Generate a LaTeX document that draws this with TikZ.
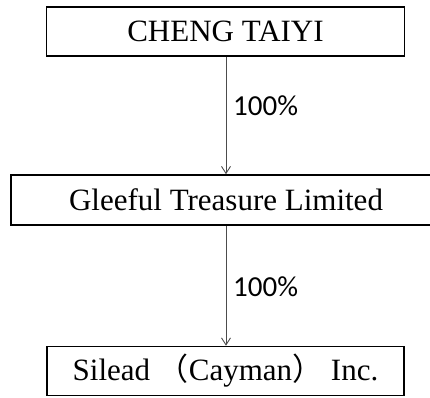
\documentclass[tikz,border=0pt]{standalone}
\usepackage{fontspec}
\setmainfont{Liberation Serif}
\newfontfamily\labfont{Carlito}
\newfontfamily\cjkfont{Noto Sans CJK SC}
\usetikzlibrary{arrows.meta}
\begin{document}
\begin{tikzpicture}[x=1pt,y=-1pt,
  entity/.style={draw=black, line width=1.6pt, fill=white, inner sep=0pt, font=\fontsize{31}{36}\selectfont},
  link/.style={draw=black!70, line width=0.9pt, -{Straight Barb[length=7pt,width=9pt,line width=0.9pt]}},
  pct/.style={font=\labfont\fontsize{29}{32}\selectfont, anchor=west, inner sep=0pt}]
\useasboundingbox (0,0) rectangle (430,397);
\node[entity, minimum width=358pt, minimum height=49pt] (a) at (225.5,31.5) {CHENG TAIYI};
\node[entity, minimum width=430pt, minimum height=50pt] (b) at (226,200) {Gleeful Treasure Limited};
\node[entity, minimum width=357pt, minimum height=49pt] (c) at (225.5,371) {Silead {\cjkfont （}Cayman{\cjkfont ）} Inc.};
\draw[link] (a.south -| 226,0) -- (b.north -| 226,0);
\draw[link] (b.south -| 226,0) -- (c.north -| 226,0);
\node[pct] (l1) at (233,106) {100\%};
\node[pct] (l2) at (233,287) {100\%};
\end{tikzpicture}
\end{document}
